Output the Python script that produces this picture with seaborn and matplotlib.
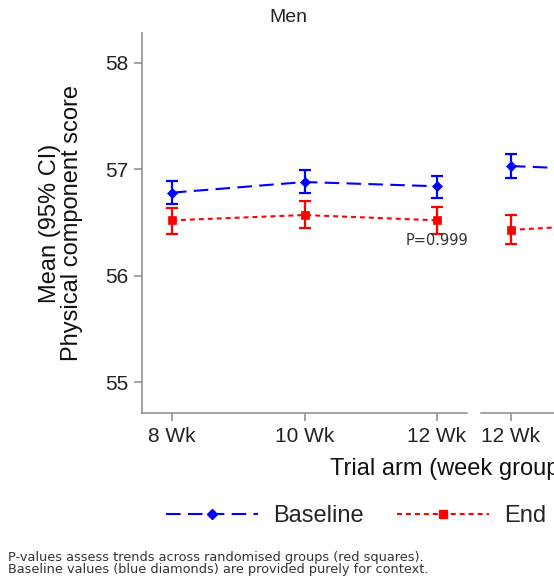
import numpy as np
import pandas as pd
import matplotlib
matplotlib.use("Agg")
import matplotlib.pyplot as plt
from matplotlib.lines import Line2D
import seaborn as sns

# Mean physical component score with 95% CI, by trial arm
men_arms = ["8 Wk", "10 Wk", "12 Wk"]
men_base_mean = [56.78, 56.88, 56.84]
men_base_lo = [56.67, 56.78, 56.73]
men_base_hi = [56.89, 56.99, 56.94]
men_end_mean = [56.52, 56.57, 56.52]
men_end_lo = [56.39, 56.45, 56.39]
men_end_hi = [56.64, 56.70, 56.65]
men_p = "P=0.999"

women_arms = ["12 Wk", "14 Wk", "16 Wk"]
women_base_mean = [57.03, 56.98]
women_base_lo = [56.92, 56.87]
women_base_hi = [57.14, 57.09]
women_end_mean = [56.43, 56.50]
women_end_lo = [56.30, 56.37]
women_end_hi = [56.57, 56.63]

y_ticks = [55, 56, 57, 58]

sns.set_theme(style="white")
plt.rcParams["font.family"] = ["Liberation Sans", "DejaVu Sans"]

BLUE = "#0000ff"
RED = "#ff0000"
AXC = "#8a8a8a"
palette = {"Baseline": BLUE, "End": RED}
dashes = {"Baseline": (7, 3.5), "End": (2.4, 1.9)}
markers = {"Baseline": "D", "End": "s"}
msizes = {"Baseline": 5.5, "End": 6}

W, H = 554, 583
fig = plt.figure(figsize=(W / 100, H / 100), dpi=100)

def px_axes(x0, x1, y0, y1):
    return fig.add_axes([x0 / W, 1 - y1 / H, (x1 - x0) / W, (y1 - y0) / H])

ax_m = px_axes(142, 467, 33, 413)
ax_w = px_axes(481, 806, 33, 413)


def draw_panel(ax, arms, bm, blo, bhi, em, elo, ehi):
    nb, ne = len(bm), len(em)
    df = pd.DataFrame({
        "pos": list(range(nb)) + list(range(ne)),
        "mean": list(bm) + list(em),
        "series": ["Baseline"] * nb + ["End"] * ne,
    })
    sns.lineplot(data=df, x="pos", y="mean", hue="series", style="series",
                 palette=palette, dashes=dashes, markers=markers,
                 linewidth=1.5, legend=False, ax=ax)
    for ln in ax.get_lines():
        col = ln.get_color()
        key = "Baseline" if col in (BLUE, (0.0, 0.0, 1.0)) or \
            matplotlib.colors.same_color(col, BLUE) else "End"
        ln.set_markersize(msizes[key])
        ln.set_markeredgecolor(col)
        ln.set_markeredgewidth(0.5)
    for mean, lo, hi, col in ((bm, blo, bhi, BLUE), (em, elo, ehi, RED)):
        mean, lo, hi = map(np.asarray, (mean, lo, hi))
        ax.errorbar(np.arange(len(mean)), mean, yerr=[mean - lo, hi - mean],
                    fmt="none", ecolor=col, elinewidth=1.6, capsize=4,
                    capthick=1.6, zorder=4)
    ax.set_xlim(-0.226, len(arms) - 1 + 0.226)
    ax.set_ylim(54.71, 58.28)
    ax.set_xticks(range(len(arms)))
    ax.set_xticklabels(arms)
    ax.set_xlabel("")
    ax.set_ylabel("")
    for s in ("top", "right"):
        ax.spines[s].set_visible(False)
    for s in ("left", "bottom"):
        ax.spines[s].set_color(AXC)
        ax.spines[s].set_linewidth(1.1)
    ax.tick_params(axis="both", which="major", direction="out", length=6,
                   width=1.1, color=AXC, labelsize=15, labelcolor="#222222",
                   bottom=True, left=True, pad=4)
    ax.set_facecolor("none")


draw_panel(ax_m, men_arms, men_base_mean, men_base_lo, men_base_hi,
           men_end_mean, men_end_lo, men_end_hi)
draw_panel(ax_w, women_arms, women_base_mean, women_base_lo, women_base_hi,
           women_end_mean, women_end_lo, women_end_hi)

ax_m.set_yticks(y_ticks)
ax_m.set_ylabel("Mean (95% CI)\nPhysical component score", fontsize=17,
                color="#111111", linespacing=0.95, labelpad=16)
ax_m.text(2, 56.33, men_p, ha="center", va="center", fontsize=10.5,
          family="DejaVu Sans", color="#333333", zorder=5)

ax_w.spines["left"].set_visible(False)
ax_w.set_yticks([])
ax_w.tick_params(axis="y", left=False)

fig.text(288 / W, 1 - 18 / H, "Men", ha="center", va="center", fontsize=14,
         color="#222222")
fig.text(330 / W, 1 - 469 / H, "Trial arm (week group)", ha="left",
         va="center", fontsize=17, color="#111111")

handles = [
    Line2D([], [], color=BLUE, lw=1.5, dashes=dashes["Baseline"], marker="D",
           ms=5.5, mec=BLUE),
    Line2D([], [], color=RED, lw=1.5, dashes=dashes["End"], marker="s",
           ms=6, mec=RED),
]
fig.legend(handles, ["Baseline", "End"], loc="center left",
           bbox_to_anchor=(166 / W, 1 - 516 / H), ncol=2, frameon=False,
           fontsize=17, handlelength=3.9, handletextpad=0.64,
           columnspacing=1.4, borderpad=0, borderaxespad=0)

fig.text(8 / W, 1 - 557 / H,
         "P-values assess trends across randomised groups (red squares).",
         ha="left", va="center", fontsize=9.3, family="DejaVu Sans",
         color="#333333")
fig.text(8 / W, 1 - 570 / H,
         "Baseline values (blue diamonds) are provided purely for context.",
         ha="left", va="center", fontsize=9.3, family="DejaVu Sans",
         color="#333333")

fig.savefig("out.png", dpi=100)
